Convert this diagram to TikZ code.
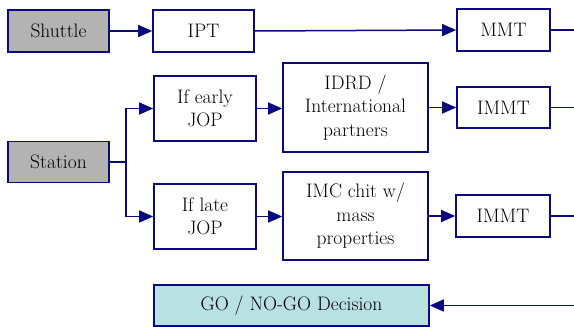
\documentclass[tikz,border=0pt]{standalone}
\usetikzlibrary{arrows.meta}
\definecolor{navy}{RGB}{10,10,128}
\definecolor{boxgray}{RGB}{179,179,179}
\definecolor{gocyan}{RGB}{185,224,227}
\tikzset{
  box/.style={draw=navy, line width=1.6pt, fill=white, inner sep=0pt, align=center,
    font=\fontsize{19.5}{23.5}\selectfont},
  graybox/.style={box, fill=boxgray},
  cyanbox/.style={box, fill=gocyan},
  conn/.style={draw=navy, line width=1.5pt},
  arr/.style={conn, -{Triangle[length=14pt,width=12pt]}},
}
\begin{document}
\begin{tikzpicture}[x=1pt,y=-1pt]
\useasboundingbox (0,0) rectangle (574,327);
\node[graybox, minimum width=101pt, minimum height=42pt] (shuttle) at (58.5,31) {Shuttle};
\node[box, minimum width=101pt, minimum height=42pt] (ipt) at (203.5,31) {IPT};
\node[box, minimum width=93pt, minimum height=42pt] (mmt) at (503.5,30) {MMT};
\node[box, minimum width=102pt, minimum height=65pt] (early) at (205,108.5) {If early\\JOP};
\node[box, minimum width=145pt, minimum height=89pt] (idrd) at (355.5,107.5) {IDRD /\\International\\partners};
\node[box, minimum width=93pt, minimum height=41pt] (immta) at (503.5,107.5) {IMMT};
\node[graybox, minimum width=101pt, minimum height=41pt] (station) at (58.5,162) {Station};
\node[box, minimum width=102pt, minimum height=65pt] (late) at (205,216.5) {If late\\JOP};
\node[box, minimum width=145pt, minimum height=88pt] (imc) at (355.5,216) {IMC chit w/\\mass\\properties};
\node[box, minimum width=94pt, minimum height=42pt] (immtb) at (503,216) {IMMT};
\node[cyanbox, minimum width=275pt, minimum height=41pt] (go) at (291.5,305.5) {GO / NO-GO Decision};

\coordinate (e1) at (574,30);
\coordinate (e2) at (574,107.5);
\coordinate (e3) at (574,216);
\coordinate (e4) at (574,305.5);
\coordinate (split) at (126,162);

\draw[arr] (shuttle) -- (ipt);
\draw[arr] (ipt.east) -- (mmt.west);
\draw[conn] (mmt.east) -- (e1);
\draw[conn] (station.east) -- (split);
\draw[arr] (split) |- (early.west);
\draw[arr] (split) |- (late.west);
\draw[arr] (early) -- (early -| idrd.west);
\draw[arr] (late) -- (late -| imc.west);
\draw[arr] (idrd.east |- immta) -- (immta.west);
\draw[arr] (imc.east |- immtb) -- (immtb.west);
\draw[conn] (immta.east) -- (e2);
\draw[conn] (immtb.east) -- (e3);
\draw[arr] (e4) -- (go.east);
\end{tikzpicture}
\end{document}
